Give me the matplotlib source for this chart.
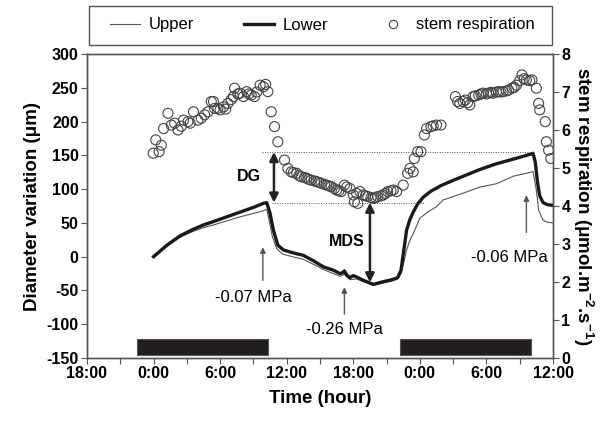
import numpy as np
import matplotlib
matplotlib.use("Agg")
from matplotlib import pyplot as plt
from matplotlib.lines import Line2D
from matplotlib.patches import Rectangle
from matplotlib.legend_handler import HandlerLine2D

plt.rcParams['font.family'] = ['Liberation Sans', 'DejaVu Sans']
plt.rcParams['mathtext.fontset'] = 'custom'
plt.rcParams['mathtext.rm'] = 'Liberation Sans'
plt.rcParams['mathtext.bf'] = 'Liberation Sans:bold'
plt.rcParams['axes.unicode_minus'] = False

# time in hours counted from 18:00 of the first day
tick_hours = [0, 6, 12, 18, 24, 30, 36, 42]
tick_labels = ['18:00', '0:00', '6:00', '12:00', '18:00', '0:00', '6:00', '12:00']

lower_t = [6.0, 6.5, 7.2, 8.4, 9.5, 10.5, 11.4, 12.6, 13.8, 15.0, 15.9, 16.2, 16.5, 16.8, 17.2,
           17.7, 18.5, 19.5, 20.5, 21.3, 22.2, 22.8, 23.0, 23.2, 23.4, 23.7, 24.0, 24.3, 24.9,
           25.8, 26.7, 27.5, 28.0, 28.3, 28.6, 28.8, 29.1, 29.4, 29.8, 30.3, 31.0, 32.0, 33.0,
           34.2, 35.4, 36.8, 38.1, 39.2, 40.0, 40.2, 40.4, 40.6, 40.8, 41.1, 41.5, 42.0]
lower_v = [0, 7, 17, 31, 40, 47, 52, 59, 66, 73, 79, 80, 64, 39, 17,
           10, 6, 2, -7, -15, -20, -25, -24, -21, -27, -31, -28, -30, -35,
           -41, -37, -34, -31, -20, 15, 39, 55, 66, 78, 88, 97, 106, 113,
           121, 129, 137, 143, 148, 152, 153, 140, 110, 90, 80, 77, 76]

upper_t = [6.0, 6.5, 7.2, 8.4, 9.5, 10.5, 11.4, 12.6, 13.8, 15.0, 15.9, 16.2, 16.4, 16.7, 17.1,
           17.6, 18.5, 19.5, 20.5, 21.3, 22.2, 22.8, 23.2, 23.4, 23.7, 24.3, 24.9, 25.8, 26.7,
           27.5, 28.0, 28.3, 28.6, 28.8, 29.1, 29.4, 30.0, 30.7, 31.5, 32.1, 33.9, 35.4, 36.9,
           38.4, 40.0, 40.2, 40.5, 40.7, 41.1, 41.5, 42.0]
upper_v = [0, 6, 15, 29, 37, 43, 47, 53, 59, 64, 68, 70, 55, 30, 12,
           4, 0, -4, -12, -19, -25, -29, -26, -30, -34, -33, -37, -42, -39,
           -36, -33, -25, -5, 10, 24, 34, 57, 66, 74, 84, 94, 103, 108,
           119, 125, 126, 98, 69, 54, 51, 50]

resp_t = [5.97, 6.2, 6.5, 6.7, 6.9, 7.3, 7.6, 7.9, 8.2, 8.5, 8.7, 9.1, 9.3, 9.6, 10.0, 10.3,
          10.6, 10.9, 11.2, 11.4, 11.5, 11.8, 12.0, 12.3, 12.5, 12.7, 13.0, 13.2, 13.3, 13.6,
          13.8, 14.1, 14.4, 14.6, 14.8, 15.1, 15.3, 15.6, 15.9, 16.1, 16.3, 16.6, 16.9, 17.2,
          17.8, 18.1, 18.4, 18.6, 18.9, 19.1, 19.3, 19.6, 19.8, 20.0, 20.2, 20.5, 20.7, 20.9,
          21.1, 21.4, 21.6, 21.8, 22.0, 22.3, 22.5, 22.7, 22.9, 23.2, 23.4, 23.7, 24.0, 24.1,
          24.3, 24.4, 24.6, 24.9, 25.1, 25.3, 25.6, 25.8, 26.0, 26.2, 26.5, 26.7, 26.9, 27.1,
          27.4, 27.6, 27.9, 28.5, 28.9, 29.1, 29.4, 29.5, 29.8, 30.1, 30.4, 30.6, 31.0, 31.2,
          31.5, 31.9, 33.2, 33.4, 33.6, 33.9, 34.1, 34.3, 34.5, 34.8, 35.0, 35.3, 35.5, 35.7,
          36.0, 36.2, 36.4, 36.6, 36.9, 37.1, 37.3, 37.5, 37.8, 38.0, 38.3, 38.5, 38.7, 39.0,
          39.2, 39.4, 39.6, 39.9, 40.1, 40.5, 40.7, 40.8, 41.3, 41.4, 41.6, 41.8]
resp_r = [5.39, 5.74, 5.43, 5.6, 6.04, 6.44, 6.13, 6.18, 6.0, 6.1, 6.26, 6.22, 6.18, 6.48, 6.26, 6.31,
          6.4, 6.48, 6.75, 6.75, 6.57, 6.57, 6.53, 6.61, 6.55, 6.7, 6.8, 6.88, 7.1, 6.95,
          6.97, 6.88, 7.01, 6.95, 6.92, 6.88, 7.0, 7.18, 7.14, 7.2, 7.01, 6.48, 6.09, 5.69,
          5.21, 4.99, 4.9, 4.88, 4.86, 4.8, 4.77, 4.75, 4.73, 4.7, 4.68, 4.66, 4.64, 4.62,
          4.6, 4.57, 4.55, 4.53, 4.51, 4.46, 4.42, 4.4, 4.38, 4.55, 4.5, 4.46, 4.29, 4.11,
          4.33, 4.07, 4.38, 4.29, 4.27, 4.25, 4.22, 4.2, 4.22, 4.25, 4.27, 4.29, 4.33, 4.38,
          4.4, 4.42, 4.38, 4.55, 4.86, 4.99, 4.9, 5.25, 5.43, 5.43, 5.87, 6.04, 6.09, 6.11,
          6.13, 6.13, 6.88, 6.75, 6.7, 6.75, 6.79, 6.72, 6.66, 6.88, 6.9, 6.92, 6.95, 6.97,
          6.95, 6.97, 6.99, 6.97, 7.0, 7.01, 7.0, 7.01, 7.03, 7.05, 7.1, 7.12, 7.18, 7.3,
          7.45, 7.35, 7.32, 7.3, 7.32, 7.1, 6.7, 6.53, 6.22, 5.69, 5.47, 5.25]

# dark periods (hours)
night_start = [4.5, 28.2]
night_end = [16.3, 40.0]


class RightMarkerHandler(HandlerLine2D):
    # put the single legend marker near the text instead of mid-handle
    def get_xdata(self, legend, xdescent, ydescent, width, height, fontsize):
        xdata = np.array([-xdescent, -xdescent + width], float)
        return xdata, np.array([-xdescent + width - 5], float)


def draw_annotations(ax):
    dot = dict(color='#555555', lw=0.7, ls=(0, (1, 1.5)))
    ax.plot([15.8, 40.2], [155, 155], **dot)
    ax.plot([16.7, 30.4], [80, 80], **dot)

    big = dict(arrowstyle='<|-|>', color='#222222', lw=1.8, mutation_scale=13, shrinkA=0, shrinkB=0)
    ax.annotate('', xy=(16.85, 155), xytext=(16.85, 80), arrowprops=big)
    ax.annotate('', xy=(25.5, 80), xytext=(25.5, -38), arrowprops=big)
    ax.text(14.6, 118, 'DG', fontsize=11.5, fontweight='bold', ha='center', va='center')
    ax.text(23.4, 22, 'MDS', fontsize=11.5, fontweight='bold', ha='center', va='center')

    small = dict(arrowstyle='-|>', color='#555555', lw=1.0, mutation_scale=8, shrinkA=0, shrinkB=0)
    ax.annotate('', xy=(15.85, 14), xytext=(15.85, -35), arrowprops=small)
    ax.text(15.0, -60, '-0.07 MPa', fontsize=12, ha='center', va='center')
    ax.annotate('', xy=(23.2, -45), xytext=(23.2, -85), arrowprops=small)
    ax.text(23.2, -108, '-0.26 MPa', fontsize=12, ha='center', va='center')
    ax.annotate('', xy=(39.6, 91), xytext=(39.6, 36), arrowprops=small)
    ax.text(38.1, -1, '-0.06 MPa', fontsize=12, ha='center', va='center')


def main():
    fig = plt.figure(figsize=(6.10, 4.21), dpi=100)
    ax = fig.add_axes([0.1426, 0.1496, 0.7640, 0.7221])
    ax2 = ax.twinx()

    for a in (ax, ax2):
        for s in a.spines.values():
            s.set_color('#555555')
            s.set_linewidth(1.0)

    ax.broken_barh([(s, e - s) for s, e in zip(night_start, night_end)], (-145.5, 23.5),
                   facecolor='#231f20', edgecolor='#555555', lw=0.8)
    ax.plot(upper_t, upper_v, color='#555555', lw=0.8)
    ax.plot(lower_t, lower_v, color='#1a1a1a', lw=2.4)
    draw_annotations(ax)

    ax2.scatter(resp_t, resp_r, s=52, facecolors='none', edgecolors='#444444', linewidths=0.8)

    ax.set_xlim(0, 42)
    ax.set_ylim(-150, 300)
    ax2.set_ylim(0, 8)
    ax.set_xticks(tick_hours)
    ax.set_xticklabels(tick_labels)
    ax.set_xticks(np.arange(0, 43, 3), minor=True)
    ax.set_yticks(np.arange(-150, 301, 50))
    ax2.set_yticks(np.arange(0, 9, 1))

    for a in (ax, ax2):
        a.tick_params(which='both', direction='out', length=4, width=0.8, color='#555555',
                      labelsize=11.5, pad=2)
        for lab in a.get_xticklabels() + a.get_yticklabels():
            lab.set_fontweight('bold')

    ax.set_xlabel('Time (hour)', fontsize=13.5, fontweight='bold', labelpad=6)
    ax.set_ylabel('Diameter variation (\u03bcm)', fontsize=13.5, fontweight='bold', labelpad=4)
    ax2.set_ylabel('stem respiration (\u03bcmol.m$^{\\mathbf{-2}}$.s$^{\\mathbf{-1}}$)',
                   fontsize=13.5, fontweight='bold', rotation=270, labelpad=18)

    # legend frame across the top, legend entries inside it
    fig.patches.append(Rectangle((89 / 610, 1 - 45 / 421), 463 / 610, 39 / 421,
                                 transform=fig.transFigure, fill=False,
                                 edgecolor='#555555', lw=1.0))
    marker_h = Line2D([], [], ls='none', marker='o', markersize=6, markerfacecolor='none',
                      markeredgecolor='#444444', markeredgewidth=0.8)
    handles = [Line2D([], [], color='#555555', lw=0.8),
               Line2D([], [], color='#1a1a1a', lw=2.4),
               marker_h]
    fig.legend(handles, ['Upper', 'Lower', 'stem respiration'], loc='center', ncol=3,
               bbox_to_anchor=(0.5287, 1 - 25 / 421), fontsize=12, frameon=False,
               handlelength=1.8, handletextpad=0.5, columnspacing=3.0, borderpad=0,
               handler_map={marker_h: RightMarkerHandler(numpoints=1)})

    fig.savefig('out.png', dpi=100)


if __name__ == "__main__":
    main()
